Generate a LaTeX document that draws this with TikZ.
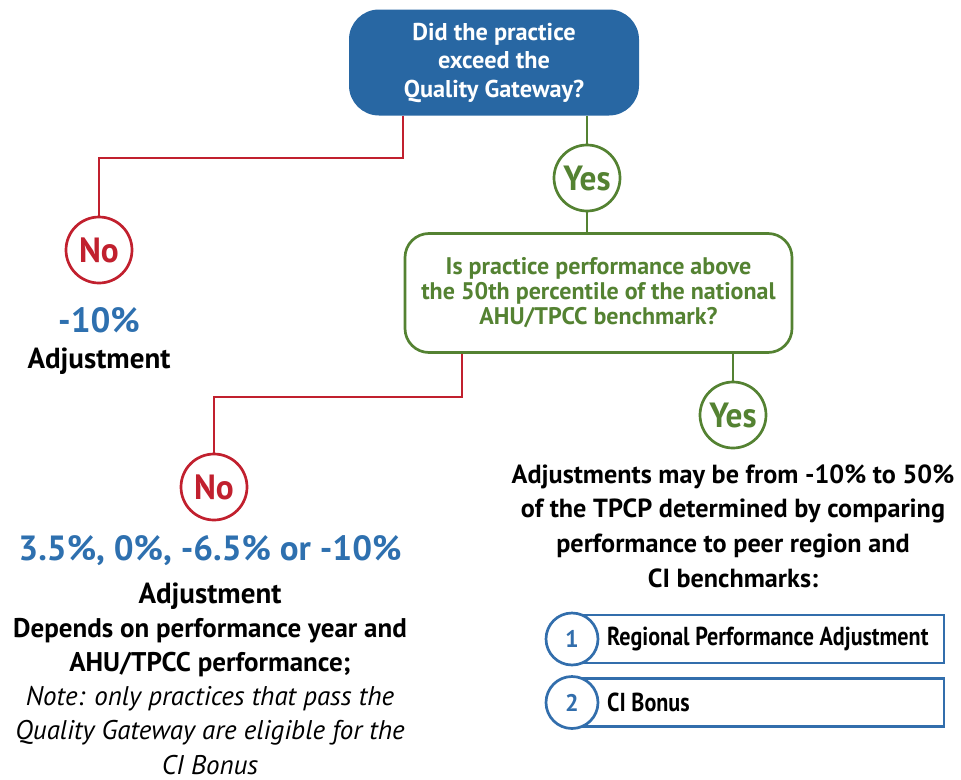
\documentclass[tikz,border=0pt]{standalone}
\usepackage{fontspec}
\setmainfont{PT Sans}
\usetikzlibrary{positioning}
\definecolor{qblue}{RGB}{40,103,163}
\definecolor{tblue}{RGB}{46,112,175}
\definecolor{qred}{RGB}{193,32,46}
\definecolor{qgreen}{RGB}{84,130,50}
\definecolor{lblue}{RGB}{50,110,172}
\newcommand{\fsz}[2]{\fontsize{#1}{#2}\selectfont}
\begin{document}
\begin{tikzpicture}[x=1pt,y=-1pt,
  redline/.style={draw=qred,line width=2.7pt},
  greenline/.style={draw=qgreen,line width=2.7pt},
  topbox/.style={fill=qblue,rounded corners=30pt,minimum width=290pt,minimum height=106pt,text=white,font=\fsz{24.3}{28.5}\bfseries,align=center,inner sep=0pt},
  gbox/.style={draw=qgreen,line width=2.7pt,fill=white,rounded corners=24pt,minimum width=387pt,minimum height=119pt,text=qgreen,font=\fsz{24}{25}\bfseries,align=center,inner sep=0pt},
  nocirc/.style={circle,draw=qred,line width=2.7pt,fill=white,minimum size=66pt,inner sep=0pt,text=qred,font=\fsz{35}{35}\bfseries},
  yescirc/.style={circle,draw=qgreen,line width=2.7pt,fill=white,minimum size=66pt,inner sep=0pt,text=qgreen,font=\fsz{35}{35}\bfseries},
  pct/.style={text=tblue,font=\fsz{35}{35}\bfseries,inner sep=0pt},
  blk/.style={text=black,font=\fsz{27}{34.2}\bfseries,align=center,inner sep=0pt},
  blkr/.style={text=black,font=\fsz{26.2}{34.7}\bfseries,align=center,inner sep=0pt},
  listbox/.style={draw=lblue,line width=2.7pt,minimum width=361pt,minimum height=48pt,inner sep=0pt},
  numcirc/.style={circle,draw=lblue,line width=2.7pt,fill=white,minimum size=52pt,inner sep=0pt,text=lblue,font=\fsz{24}{24}\bfseries},
  listtxt/.style={text=black,font=\fsz{26}{26}\bfseries,inner sep=0pt,anchor=west}
]
\useasboundingbox (0,0) rectangle (961,779);

% top question
\node[topbox] (q1) at (494,62.5) {\raisebox{-3pt}{\parbox{280pt}{\centering Did the practice\\exceed the\\Quality Gateway?}}};

% first no
\node[nocirc] (no1) at (99,250) {\scalebox{0.95}[1]{No}};
\coordinate (r1) at (403,158);
\draw[redline] (q1.south -| r1) -- (r1) -| (no1.north);
\node[pct] (p1) at (99,320) {-10\%};
\node[blk,font=\fsz{29}{34}\bfseries] (a1) at (99,361) {Adjustment};

% first yes
\node[yescirc] (yes1) at (587,178) {\scalebox{0.95}[1]{Yes}};
\draw[greenline] (q1.south -| yes1) -- (yes1.north);

% second question
\node[gbox] (q2) at (598.5,293) {Is practice performance above\\the 50th percentile of the national\\AHU/TPCC benchmark?};
\draw[greenline] (yes1.south) -- (q2.north -| yes1);

% second no
\node[nocirc] (no2) at (214,487) {\scalebox{0.95}[1]{No}};
\coordinate (r2) at (462,397);
\draw[redline] (q2.south -| r2) -- (r2) -| (no2.north);
\node[pct] (p2) at (210,551) {3.5\%, 0\%, -6.5\% or -10\%};
\node[blk] (a2) at (210,678.5) {{\fsz{29}{34.2}Adjustment}\\Depends on performance year and\\AHU/TPCC performance;\\\mdseries\itshape Note: only practices that pass the\\\mdseries\itshape Quality Gateway are eligible for the\\\mdseries\itshape CI Bonus};

% second yes
\node[yescirc] (yes2) at (733,415) {\scalebox{0.95}[1]{Yes}};
\draw[greenline] (q2.south -| yes2) -- (yes2.north);
\node[blkr] (t2) at (733,526) {Adjustments may be from -10\% to 50\%\\of the TPCP determined by comparing\\performance to peer region and\\CI benchmarks:};

% list
\node[listbox] (b1) at (763.5,639) {};
\node[numcirc] (n1) at (572,639) {1};
\node[listtxt] (l1) at (607,639) {\scalebox{0.85}[1]{Regional Performance Adjustment}};
\node[listbox] (b2) at (763.5,702.5) {};
\node[numcirc] (n2) at (572,702.5) {2};
\node[listtxt] (l2) at (607,702.5) {\scalebox{0.85}[1]{CI Bonus}};
\end{tikzpicture}
\end{document}
